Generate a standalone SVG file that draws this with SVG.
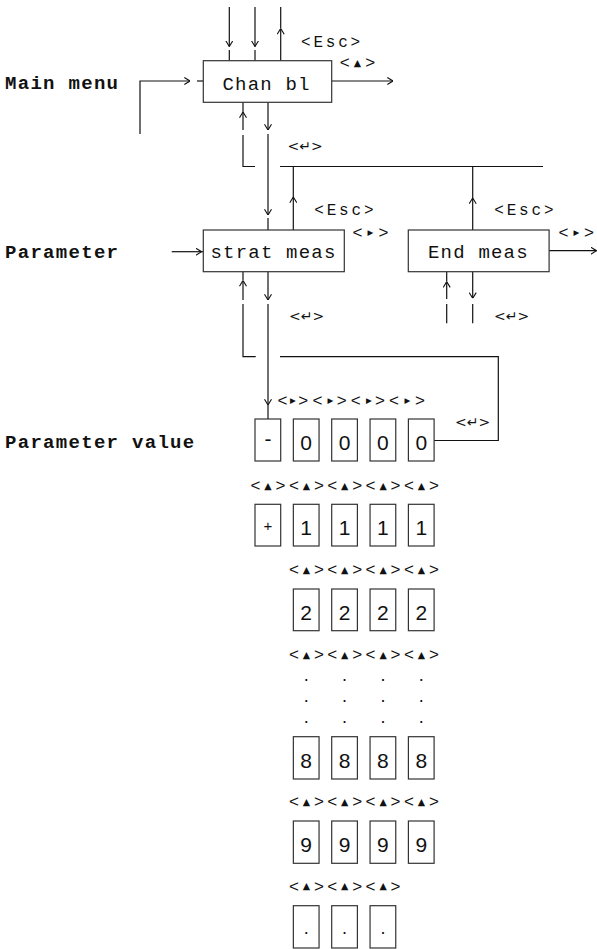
<svg xmlns="http://www.w3.org/2000/svg" width="597" height="949" viewBox="0 0 597 949">
  <defs>
    <style>
      .ln { stroke: #111; stroke-width: 1.2; fill: none; }
      .bx { fill: #fff; stroke: #333; stroke-width: 1.2; }
      .mono { font-family: "Liberation Mono", "DejaVu Sans Mono", monospace; font-size: 19px; letter-spacing: 1.2px; fill: #111; }
      .head { font-family: "Liberation Mono", "DejaVu Sans Mono", monospace; font-size: 19px; letter-spacing: 1.3px; font-weight: bold; fill: #111; }
      .esc { font-family: "Liberation Mono", "DejaVu Sans Mono", monospace; font-size: 16px; letter-spacing: 2.8px; fill: #111; }
      .dg { font-family: "Liberation Sans", Arial, sans-serif; font-size: 21px; text-anchor: middle; fill: #111; }
      .dot { font-size: 18px; }
      .br { font-family: "Liberation Sans", Arial, sans-serif; font-size: 17px; text-anchor: middle; fill: #111; }
      .tri { font-family: "DejaVu Sans", sans-serif; font-size: 9.5px; }
      .trr { font-family: "DejaVu Sans", sans-serif; font-size: 7.5px; }
      .ret { font-family: "DejaVu Sans", sans-serif; font-size: 14px; fill: #111; }
    </style>
    <marker id="arr" viewBox="0 0 6 8" refX="6" refY="4" markerWidth="6" markerHeight="8" markerUnits="userSpaceOnUse" orient="auto">
      <path d="M0.3,0.5 L6,4 L0.3,7.5" fill="none" stroke="#111" stroke-width="1.1"/>
    </marker>
  </defs>

  <rect width="597" height="949" fill="#fff"/>

  <!-- level labels -->
  <g id="level-labels">
    <text class="head" x="5" y="89.3">Main menu</text>
    <text class="head" x="5" y="258.3">Parameter</text>
    <text class="head" x="5" y="448.3">Parameter value</text>
  </g>

  <!-- connectors -->
  <g id="connectors">
    <!-- into Chan bl from above -->
    <line class="ln" x1="229.3" y1="7" x2="229.3" y2="46.5" marker-end="url(#arr)"/>
    <line class="ln" x1="229.3" y1="50" x2="229.3" y2="61"/>
    <line class="ln" x1="255" y1="7" x2="255" y2="46.5" marker-end="url(#arr)"/>
    <line class="ln" x1="255" y1="50" x2="255" y2="61"/>
    <line class="ln" x1="280.7" y1="61" x2="280.7" y2="28.5" marker-end="url(#arr)"/>
    <line class="ln" x1="280.7" y1="28.5" x2="280.7" y2="7"/>
    <!-- left entry and right exit of Chan bl -->
    <polyline class="ln" points="140,134 140,81 190,81" marker-end="url(#arr)"/>
    <line class="ln" x1="197" y1="81" x2="203" y2="81"/>
    <line class="ln" x1="332" y1="81" x2="393" y2="81" marker-end="url(#arr)"/>
    <!-- below Chan bl -->
    <line class="ln" x1="243" y1="130" x2="243" y2="112" marker-end="url(#arr)"/>
    <line class="ln" x1="243" y1="112" x2="243" y2="102"/>
    <polyline class="ln" points="243,135 243,166.5 255,166.5"/>
    <line class="ln" x1="268" y1="102" x2="268" y2="130" marker-end="url(#arr)"/>
    <line class="ln" x1="268" y1="134" x2="268" y2="215" marker-end="url(#arr)"/>
    <line class="ln" x1="268" y1="218" x2="268" y2="230"/>
    <!-- Esc bus -->
    <line class="ln" x1="280" y1="166.5" x2="543" y2="166.5"/>
    <line class="ln" x1="293.3" y1="230" x2="293.3" y2="197" marker-end="url(#arr)"/>
    <line class="ln" x1="293.3" y1="197" x2="293.3" y2="166.5"/>
    <line class="ln" x1="472.7" y1="230" x2="472.7" y2="198" marker-end="url(#arr)"/>
    <line class="ln" x1="472.7" y1="198" x2="472.7" y2="166.5"/>
    <!-- Parameter level entry / exit -->
    <line class="ln" x1="171.7" y1="251.7" x2="201.5" y2="251.7" marker-end="url(#arr)"/>
    <line class="ln" x1="201.5" y1="251.7" x2="203.3" y2="251.7"/>
    <line class="ln" x1="549" y1="250.7" x2="596.5" y2="250.7" marker-end="url(#arr)"/>
    <!-- below strat meas -->
    <line class="ln" x1="243" y1="300" x2="243" y2="280.5" marker-end="url(#arr)"/>
    <line class="ln" x1="243" y1="280.5" x2="243" y2="272"/>
    <polyline class="ln" points="243,304 243,356.7 255.7,356.7"/>
    <line class="ln" x1="268" y1="272" x2="268" y2="300" marker-end="url(#arr)"/>
    <line class="ln" x1="268" y1="304" x2="268" y2="405" marker-end="url(#arr)"/>
    <line class="ln" x1="268" y1="405" x2="268" y2="419"/>
    <!-- return from last digit -->
    <polyline class="ln" points="280,356.7 498.3,356.7 498.3,440.5 434,440.5"/>
    <!-- below End meas -->
    <line class="ln" x1="446.7" y1="299" x2="446.7" y2="281.7" marker-end="url(#arr)"/>
    <line class="ln" x1="446.7" y1="281.7" x2="446.7" y2="272"/>
    <line class="ln" x1="446.7" y1="304" x2="446.7" y2="323.3"/>
    <line class="ln" x1="472.7" y1="272" x2="472.7" y2="298.3" marker-end="url(#arr)"/>
    <line class="ln" x1="472.7" y1="304" x2="472.7" y2="323.3"/>
  </g>

  <!-- menu nodes -->
  <g id="node-chan-bl">
    <rect class="bx" x="203.3" y="60.7" width="128.4" height="41.6"/>
    <text class="mono" x="222.5" y="90">Chan bl</text>
  </g>
  <g id="node-strat-meas">
    <rect class="bx" x="203.3" y="230" width="141" height="41.7"/>
    <text class="mono" x="210.5" y="258.3">strat meas</text>
  </g>
  <g id="node-end-meas">
    <rect class="bx" x="408.3" y="230" width="140.8" height="41.7"/>
    <text class="mono" x="428" y="258">End meas</text>
  </g>

  <!-- key labels -->
  <g id="key-labels">
    <text class="esc" x="301" y="46.7">&lt;Esc&gt;</text>
    <text class="esc" x="314.3" y="215">&lt;Esc&gt;</text>
    <text class="esc" x="494.3" y="215">&lt;Esc&gt;</text>

    <text class="br" y="68.3"><tspan x="344.8">&lt;</tspan><tspan class="tri" x="357.5" y="66">▲</tspan><tspan x="370.3" y="68.3">&gt;</tspan></text>
    <text class="br" y="237.7"><tspan x="357.5">&lt;</tspan><tspan class="trr" x="370.5" y="234.7">▶</tspan><tspan x="383.5" y="237.7">&gt;</tspan></text>
    <text class="br" y="237.7"><tspan x="563.5">&lt;</tspan><tspan class="trr" x="576.3" y="234.7">▶</tspan><tspan x="589" y="237.7">&gt;</tspan></text>

    <text class="ret" x="287.5" y="151">&lt;↵&gt;</text>
    <text class="ret" x="289" y="321">&lt;↵&gt;</text>
    <text class="ret" x="494" y="321">&lt;↵&gt;</text>
    <text class="ret" x="455" y="426.7">&lt;↵&gt;</text>

    <!-- row 0 : cursor right -->
    <text class="br" y="406"><tspan x="282.5">&lt;</tspan><tspan class="trr" x="292.8" y="403">▶</tspan><tspan x="303.3" y="406">&gt;</tspan><tspan x="317.5">&lt;</tspan><tspan class="trr" x="330.5" y="403">▶</tspan><tspan x="341.7" y="406">&gt;</tspan><tspan x="355.7">&lt;</tspan><tspan class="trr" x="369" y="403">▶</tspan><tspan x="380" y="406">&gt;</tspan><tspan x="394">&lt;</tspan><tspan class="trr" x="407.5" y="403">▶</tspan><tspan x="420" y="406">&gt;</tspan></text>

    <!-- row 1 : value up -->
    <text class="br" y="491"><tspan x="255.5">&lt;</tspan><tspan class="tri" x="268" y="488.7">▲</tspan><tspan x="280.5" y="491">&gt;</tspan><tspan x="293.85">&lt;</tspan><tspan class="tri" x="306.35" y="488.7">▲</tspan><tspan x="318.85" y="491">&gt;</tspan><tspan x="332.2">&lt;</tspan><tspan class="tri" x="344.7" y="488.7">▲</tspan><tspan x="357.2" y="491">&gt;</tspan><tspan x="370.55">&lt;</tspan><tspan class="tri" x="383.05" y="488.7">▲</tspan><tspan x="395.55" y="491">&gt;</tspan><tspan x="408.9">&lt;</tspan><tspan class="tri" x="421.4" y="488.7">▲</tspan><tspan x="433.9" y="491">&gt;</tspan></text>

    <!-- row 2 -->
    <text class="br" y="575.3"><tspan x="293.85">&lt;</tspan><tspan class="tri" x="306.35" y="573">▲</tspan><tspan x="318.85" y="575.3">&gt;</tspan><tspan x="332.2">&lt;</tspan><tspan class="tri" x="344.7" y="573">▲</tspan><tspan x="357.2" y="575.3">&gt;</tspan><tspan x="370.55">&lt;</tspan><tspan class="tri" x="383.05" y="573">▲</tspan><tspan x="395.55" y="575.3">&gt;</tspan><tspan x="408.9">&lt;</tspan><tspan class="tri" x="421.4" y="573">▲</tspan><tspan x="433.9" y="575.3">&gt;</tspan></text>

    <!-- row 3 -->
    <text class="br" y="660"><tspan x="293.85">&lt;</tspan><tspan class="tri" x="306.35" y="657.7">▲</tspan><tspan x="318.85" y="660">&gt;</tspan><tspan x="332.2">&lt;</tspan><tspan class="tri" x="344.7" y="657.7">▲</tspan><tspan x="357.2" y="660">&gt;</tspan><tspan x="370.55">&lt;</tspan><tspan class="tri" x="383.05" y="657.7">▲</tspan><tspan x="395.55" y="660">&gt;</tspan><tspan x="408.9">&lt;</tspan><tspan class="tri" x="421.4" y="657.7">▲</tspan><tspan x="433.9" y="660">&gt;</tspan></text>

    <!-- row 8 -->
    <text class="br" y="807"><tspan x="293.85">&lt;</tspan><tspan class="tri" x="306.35" y="804.7">▲</tspan><tspan x="318.85" y="807">&gt;</tspan><tspan x="332.2">&lt;</tspan><tspan class="tri" x="344.7" y="804.7">▲</tspan><tspan x="357.2" y="807">&gt;</tspan><tspan x="370.55">&lt;</tspan><tspan class="tri" x="383.05" y="804.7">▲</tspan><tspan x="395.55" y="807">&gt;</tspan><tspan x="408.9">&lt;</tspan><tspan class="tri" x="421.4" y="804.7">▲</tspan><tspan x="433.9" y="807">&gt;</tspan></text>

    <!-- row 9 -->
    <text class="br" y="891.7"><tspan x="293.85">&lt;</tspan><tspan class="tri" x="306.35" y="889.4">▲</tspan><tspan x="318.85" y="891.7">&gt;</tspan><tspan x="332.2">&lt;</tspan><tspan class="tri" x="344.7" y="889.4">▲</tspan><tspan x="357.2" y="891.7">&gt;</tspan><tspan x="370.55">&lt;</tspan><tspan class="tri" x="383.05" y="889.4">▲</tspan><tspan x="395.55" y="891.7">&gt;</tspan></text>
  </g>

  <!-- ellipsis between 2 and 8 -->
  <g id="ellipsis">
    <text class="dg dot" x="306.2 344.6 383 421.3" y="681.2">....</text>
    <text class="dg dot" x="306.2 344.6 383 421.3" y="702.2">....</text>
    <text class="dg dot" x="306.2 344.6 383 421.3" y="722.9">....</text>
  </g>

  <!-- digit positions -->
  <g id="digit-r0-c0"><rect class="bx" x="255" y="419" width="25.7" height="42"/><text class="dg" x="267.9" y="446">-</text></g>
  <g id="digit-r0-c1"><rect class="bx" x="293.35" y="419" width="25.7" height="42"/><text class="dg" x="306.2" y="450">0</text></g>
  <g id="digit-r0-c2"><rect class="bx" x="331.7" y="419" width="25.7" height="42"/><text class="dg" x="344.55" y="450">0</text></g>
  <g id="digit-r0-c3"><rect class="bx" x="370.05" y="419" width="25.7" height="42"/><text class="dg" x="382.9" y="450">0</text></g>
  <g id="digit-r0-c4"><rect class="bx" x="408.4" y="419" width="25.7" height="42"/><text class="dg" x="421.25" y="450">0</text></g>

  <g id="digit-r1-c0"><rect class="bx" x="255" y="504.3" width="25.7" height="41.7"/><text class="dg" style="font-size:15px" x="267.9" y="531">+</text></g>
  <g id="digit-r1-c1"><rect class="bx" x="293.35" y="504.3" width="25.7" height="41.7"/><text class="dg" x="306.2" y="535.3">1</text></g>
  <g id="digit-r1-c2"><rect class="bx" x="331.7" y="504.3" width="25.7" height="41.7"/><text class="dg" x="344.55" y="535.3">1</text></g>
  <g id="digit-r1-c3"><rect class="bx" x="370.05" y="504.3" width="25.7" height="41.7"/><text class="dg" x="382.9" y="535.3">1</text></g>
  <g id="digit-r1-c4"><rect class="bx" x="408.4" y="504.3" width="25.7" height="41.7"/><text class="dg" x="421.25" y="535.3">1</text></g>

  <g id="digit-r2-c1"><rect class="bx" x="293.35" y="589" width="25.7" height="41.7"/><text class="dg" x="306.2" y="620">2</text></g>
  <g id="digit-r2-c2"><rect class="bx" x="331.7" y="589" width="25.7" height="41.7"/><text class="dg" x="344.55" y="620">2</text></g>
  <g id="digit-r2-c3"><rect class="bx" x="370.05" y="589" width="25.7" height="41.7"/><text class="dg" x="382.9" y="620">2</text></g>
  <g id="digit-r2-c4"><rect class="bx" x="408.4" y="589" width="25.7" height="41.7"/><text class="dg" x="421.25" y="620">2</text></g>

  <g id="digit-r8-c1"><rect class="bx" x="293.35" y="736.7" width="25.7" height="42.3"/><text class="dg" x="306.2" y="767.7">8</text></g>
  <g id="digit-r8-c2"><rect class="bx" x="331.7" y="736.7" width="25.7" height="42.3"/><text class="dg" x="344.55" y="767.7">8</text></g>
  <g id="digit-r8-c3"><rect class="bx" x="370.05" y="736.7" width="25.7" height="42.3"/><text class="dg" x="382.9" y="767.7">8</text></g>
  <g id="digit-r8-c4"><rect class="bx" x="408.4" y="736.7" width="25.7" height="42.3"/><text class="dg" x="421.25" y="767.7">8</text></g>

  <g id="digit-r9-c1"><rect class="bx" x="293.35" y="821" width="25.7" height="42.3"/><text class="dg" x="306.2" y="852">9</text></g>
  <g id="digit-r9-c2"><rect class="bx" x="331.7" y="821" width="25.7" height="42.3"/><text class="dg" x="344.55" y="852">9</text></g>
  <g id="digit-r9-c3"><rect class="bx" x="370.05" y="821" width="25.7" height="42.3"/><text class="dg" x="382.9" y="852">9</text></g>
  <g id="digit-r9-c4"><rect class="bx" x="408.4" y="821" width="25.7" height="42.3"/><text class="dg" x="421.25" y="852">9</text></g>

  <g id="digit-rp-c1"><rect class="bx" x="293.35" y="905.7" width="25.7" height="42.3"/><text class="dg dot" x="306.2" y="933.5">.</text></g>
  <g id="digit-rp-c2"><rect class="bx" x="331.7" y="905.7" width="25.7" height="42.3"/><text class="dg dot" x="344.55" y="933.5">.</text></g>
  <g id="digit-rp-c3"><rect class="bx" x="370.05" y="905.7" width="25.7" height="42.3"/><text class="dg dot" x="382.9" y="933.5">.</text></g>
</svg>
